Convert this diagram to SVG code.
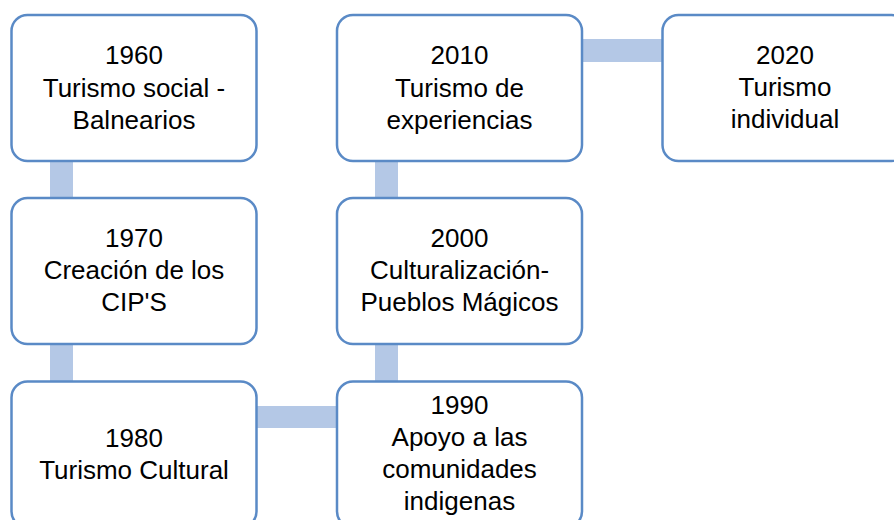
<svg xmlns="http://www.w3.org/2000/svg" width="894" height="520" viewBox="0 0 894 520">
<style>
.box{fill:#FFFFFF;stroke:#5A8AC6;stroke-width:2.5}
.bar{fill:#B4C8E6;stroke:none}
text{font-family:"Liberation Sans",Arial,sans-serif;font-size:26px;fill:#000000;text-anchor:middle}
</style>
<rect width="894" height="520" fill="#FFFFFF"/>
<g id="connectors">
<rect class="bar" x="50" y="158" width="23" height="42"/>
<rect class="bar" x="50" y="341" width="23" height="42"/>
<rect class="bar" x="254" y="406" width="85" height="22"/>
<rect class="bar" x="375" y="341" width="23" height="42"/>
<rect class="bar" x="375" y="158" width="23" height="42"/>
<rect class="bar" x="579" y="39" width="86" height="23"/>
</g>
<g id="n1960">
<rect class="box" x="11.5" y="15" width="245" height="146" rx="16"/>
<text x="134" y="64">1960</text>
<text x="134" y="96.5">Turismo social -</text>
<text x="134" y="128.5">Balnearios</text>
</g>
<g id="n1970">
<rect class="box" x="11.5" y="198" width="245" height="146" rx="16"/>
<text x="134" y="246.5">1970</text>
<text x="134" y="279">Creación de los</text>
<text x="134" y="311">CIP'S</text>
</g>
<g id="n1980">
<rect class="box" x="11.5" y="381.5" width="245" height="146" rx="16"/>
<text x="134" y="446.5">1980</text>
<text x="134" y="478.5">Turismo Cultural</text>
</g>
<g id="n1990">
<rect class="box" x="337" y="381.5" width="245" height="146" rx="16"/>
<text x="459.5" y="414">1990</text>
<text x="459.5" y="446">Apoyo a las</text>
<text x="459.5" y="478">comunidades</text>
<text x="459.5" y="510">indigenas</text>
</g>
<g id="n2000">
<rect class="box" x="337" y="198" width="245" height="146" rx="16"/>
<text x="459.5" y="246.5">2000</text>
<text x="459.5" y="279">Culturalización-</text>
<text x="459.5" y="311">Pueblos Mágicos</text>
</g>
<g id="n2010">
<rect class="box" x="337" y="15" width="245" height="146" rx="16"/>
<text x="459.5" y="64">2010</text>
<text x="459.5" y="96.5">Turismo de</text>
<text x="459.5" y="128.5">experiencias</text>
</g>
<g id="n2020">
<rect class="box" x="662.5" y="15" width="245" height="146" rx="16"/>
<text x="785" y="64">2020</text>
<text x="785" y="96">Turismo</text>
<text x="785" y="128">individual</text>
</g>
</svg>
